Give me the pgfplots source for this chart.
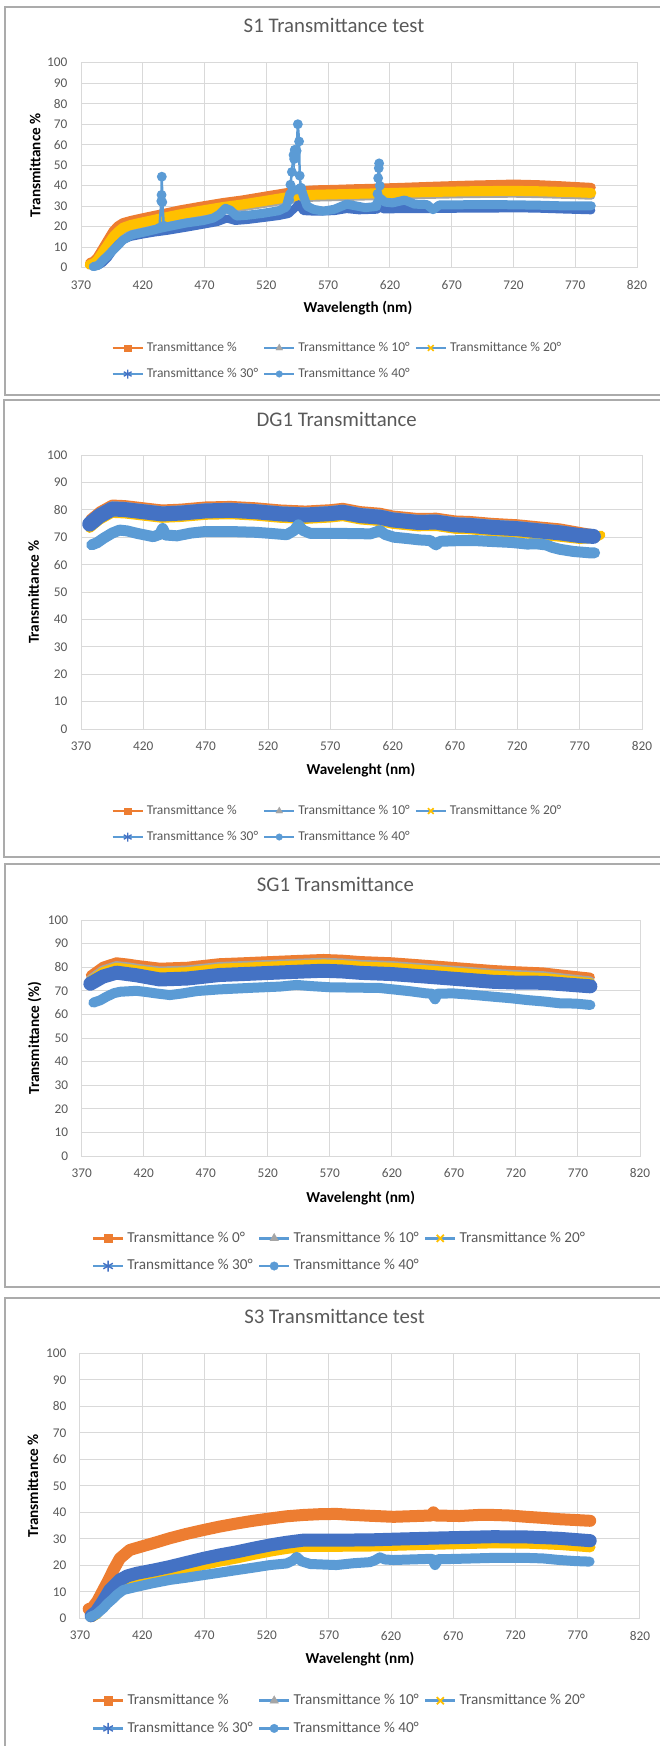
\documentclass[border=0pt]{standalone}
\usepackage{fontspec}
\setmainfont{Carlito}
\usepackage{pgfplots}
\pgfplotsset{compat=1.18}
\definecolor{xorange}{HTML}{ED7D31}
\definecolor{xgray}{HTML}{A5A5A5}
\definecolor{xgold}{HTML}{FFC000}
\definecolor{xdblue}{HTML}{4472C4}
\definecolor{xlblue}{HTML}{5B9BD5}
\definecolor{xgrid}{HTML}{D9D9D9}
\definecolor{xtext}{HTML}{595959}
\definecolor{xframe}{HTML}{ABABAB}

\pgfplotsset{
  xlchart/.style={
    scale only axis,
    xmin=370, xmax=820, ymin=0, ymax=100,
    xtick={370,420,...,820}, ytick={0,10,...,100},
    grid=major,
    major grid style={draw=xgrid, line width=1pt},
    axis line style={draw=xgrid, line width=1pt},
    major tick length=0pt,
    /pgf/number format/assume math mode=true,
    /pgf/number format/1000 sep={},
    ticklabel style={font=\fontsize{13.3}{13.3}\selectfont, text=xtext},
    xticklabel style={anchor=north, inner sep=0pt, yshift=-12.5pt},
    yticklabel style={anchor=east, inner sep=0pt, xshift=-13.5pt},
    title style={font=\fontsize{20.8}{20.8}\selectfont, text=xtext, anchor=center, inner sep=0pt},
    label style={font=\fontsize{15.2}{15.2}\selectfont\bfseries, text=black, inner sep=0pt},
    xlabel style={anchor=center},
    ylabel style={anchor=center},
    clip=false,
    legend columns=3,
    legend cell align=left,
    legend style={anchor=north west, draw=none, fill=none, inner sep=0pt, outer sep=0pt,
      /tikz/every odd column/.append style={column sep=3pt},
      /tikz/every even column/.append style={column sep=5pt}},
    legend image code/.code={\draw[mark repeat=2,mark phase=2,#1] plot coordinates {(0pt,0pt) (15pt,0pt) (30pt,0pt)};},
  },
  band/.style={no markers, line join=round, line cap=round, line width=#1, forget plot},
  lg0s/.style={xorange, line width=2.3pt, mark=square*, mark size=3.3pt, mark options={solid, line width=0.3pt, fill=xorange, draw=xorange}},
  lg1s/.style={xlblue, line width=2.3pt, mark=triangle*, mark size=4pt, mark options={solid, line width=0.3pt, fill=xgray, draw=xgray}},
  lg2s/.style={xlblue, line width=2.3pt, mark=x, mark size=4pt, mark options={solid, line width=1.6pt, draw=xgold}},
  lg3s/.style={xlblue, line width=2.3pt, mark=asterisk, mark size=4.5pt, mark options={solid, line width=1.3pt, draw=xdblue}},
  lg4s/.style={xlblue, line width=2.3pt, mark=*, mark size=3.3pt, mark options={solid, line width=0.3pt, fill=xlblue, draw=xlblue}},
  lg0b/.style={xorange, line width=2.8pt, mark=square*, mark size=4.3pt, mark options={solid, line width=0.3pt, fill=xorange, draw=xorange}},
  lg1b/.style={xlblue, line width=2.8pt, mark=triangle*, mark size=5pt, mark options={solid, line width=0.3pt, fill=xgray, draw=xgray}},
  lg2b/.style={xlblue, line width=2.8pt, mark=x, mark size=5pt, mark options={solid, line width=1.8pt, draw=xgold}},
  lg3b/.style={xlblue, line width=2.8pt, mark=asterisk, mark size=5.5pt, mark options={solid, line width=1.4pt, draw=xdblue}},
  lg4b/.style={xlblue, line width=2.8pt, mark=*, mark size=4.3pt, mark options={solid, line width=0.3pt, fill=xlblue, draw=xlblue}},
}

\begin{document}
\begin{tikzpicture}
\useasboundingbox (0,0) rectangle (660pt,-1746pt);
% chart frames
\draw[xframe, line width=2pt] (680pt,-6.7pt) -- (5pt,-6.7pt) -- (5pt,-395pt) -- (680pt,-395pt);
\draw[xframe, line width=2pt] (680pt,-400pt) -- (4pt,-400pt) -- (4pt,-857.3pt) -- (680pt,-857.3pt);
\draw[xframe, line width=2pt] (680pt,-864.3pt) -- (5pt,-864.3pt) -- (5pt,-1286.7pt) -- (680pt,-1286.7pt);
\draw[xframe, line width=2pt] (680pt,-1298.3pt) -- (5pt,-1298.3pt) -- (5pt,-1760pt);

% ================= S1 =================
\begin{axis}[xlchart, at={(81pt,-267.7pt)}, anchor=south west, width=556pt, height=205pt,
  title={S1 Transmittance test}, title style={at={(axis description cs:0.455,1.151)}},
  xlabel={Wavelength (nm)}, xlabel style={at={(axis description cs:0.498,-0.1966)}},
  ylabel={Transmittance \%}, ylabel style={at={(axis description cs:-0.0827,0.5)}},
  legend style={at={(axis description cs:0.0549,-0.3612)}, font=\fontsize{13.5}{13.5}\selectfont,
    nodes={inner sep=0pt, text height=9.5pt, text depth=3pt, text=xtext}, row sep=13.5pt},
]
\addplot[band=9pt, xorange] coordinates {(377,2.5)(380,3.2)(383,5)(387,9)(392,14)(396,18)(400,20.5)(404,22)(410,23)(415,23.7)(425,25)(434,26.1)(450,28.2)(469,30.2)(485,31.8)(500,33)(520,35)(535,36.5)(547,37.5)(560,38)(575,38.2)(590,38.5)(604,38.7)(630,39.2)(658,39.8)(685,40.3)(700,40.5)(720,40.8)(740,40.5)(758,40)(770,39.6)(783,39.2)};
\addplot[band=8pt, xgray] coordinates {(377,1)(380,1.5)(383,3)(387,6)(392,10.5)(396,14)(400,16.5)(404,18.3)(410,19.6)(415,20.2)(425,21.4)(434,22.6)(450,24.6)(469,26.6)(485,28.2)(500,29.4)(520,31.3)(535,32.8)(547,33.8)(560,34.2)(575,34.4)(590,34.6)(604,34.8)(630,35.2)(658,35.6)(685,35.9)(700,36)(720,36.1)(740,35.9)(758,35.6)(770,35.4)(783,35.1)};
\addplot[band=10pt, xgold] coordinates {(377,1.5)(380,2)(383,3.5)(387,7)(392,11.5)(396,15)(400,17.5)(404,19.5)(410,20.8)(415,21.5)(425,22.8)(434,24)(450,26)(469,28)(485,29.6)(500,30.8)(520,32.7)(535,34.2)(547,35.2)(560,35.6)(575,35.8)(590,36)(604,36.2)(630,36.6)(658,37)(685,37.3)(700,37.4)(720,37.5)(740,37.3)(758,37)(770,36.8)(783,36.5)};
\addplot[band=8pt, xdblue] coordinates {(380,0.5)(384,1)(388,2.5)(392,5)(396,8.5)(400,11.5)(405,13.8)(410,15)(420,16.2)(430,17.2)(440,18)(455,19.5)(469,21)(480,22.2)(488,24)(495,22.8)(505,23.3)(517,24.2)(530,25.2)(538,26.2)(543,29)(546,31)(550,27.6)(560,27.3)(575,27.6)(585,28.6)(595,28)(610,28.3)(612,30)(615,28.4)(630,28.6)(650,28.6)(680,28.8)(700,28.8)(720,29)(740,28.8)(760,28.4)(783,28)};
\addplot[band=9pt, xlblue] coordinates {(380,0.5)(384,1.2)(388,3.8)(392,6)(396,8.6)(400,11)(404,13.5)(411,16)(423,17.6)(434,19.2)(445,20.6)(455,21.8)(469,23)(477,24.2)(482,26)(487,29)(491,28)(496,25.2)(505,25.6)(517,26.5)(530,27.8)(536,29.5)(539,36)(542,38)(545,38)(548,39)(550,35)(553,30)(558,28.5)(566,27.6)(575,28.5)(585,31)(592,30.2)(600,29.3)(608,29.8)(612,34)(616,32)(622,31.6)(632,33)(640,31)(650,30.8)(655,28.3)(660,30.6)(677,30.7)(700,30.8)(717,30.7)(740,30.5)(758,30.2)(783,30.2)};
\addplot[xlblue, line width=2.5pt, mark=*, mark size=3.6pt, forget plot] coordinates {(433.5,19.5)(435,32.5)(435.2,35.5)(435.4,44.4)(435.8,32)(437,20.5)};
\addplot[xlblue, line width=2.5pt, mark=*, mark size=3.6pt, forget plot] coordinates {(538.5,33)(539.5,40.5)(540.7,46.7)(542,55)(542.5,53)(543,57.5)(544.5,57)(545.5,70)(546.5,61.6)(547,44.9)(548,39)};
\addplot[xlblue, line width=2.5pt, mark=*, mark size=3.6pt, forget plot] coordinates {(609,30)(610,36)(610.5,43.7)(611,48.6)(611.3,50.9)(611.8,40)(613,33)};
\addlegendimage{lg0s}\addlegendentry{Transmittance \%}
\addlegendimage{lg1s}\addlegendentry{Transmittance \% 10°}
\addlegendimage{lg2s}\addlegendentry{Transmittance \% 20°}
\addlegendimage{lg3s}\addlegendentry{Transmittance \% 30°}
\addlegendimage{lg4s}\addlegendentry{Transmittance \% 40°}
\end{axis}

% ================= DG1 =================
\begin{axis}[xlchart, at={(81pt,-729pt)}, anchor=south west, width=561pt, height=274pt,
  title={DG1 Transmittance}, title style={at={(axis description cs:0.4558,1.1095)}},
  xlabel={Wavelenght (nm)}, xlabel style={at={(axis description cs:0.499,-0.1496)}},
  ylabel={Transmittance \%}, ylabel style={at={(axis description cs:-0.0843,0.5)}},
  legend style={at={(axis description cs:0.0544,-0.2765)}, font=\fontsize{13.5}{13.5}\selectfont,
    nodes={inner sep=0pt, text height=9.5pt, text depth=3pt, text=xtext}, row sep=13.5pt},
]
\addplot[band=9pt, xorange] coordinates {(377,76.6)(385,79.6)(395,82.1)(405,81.9)(420,81.1)(435,80.3)(450,80.6)(470,81.4)(490,81.6)(510,81.1)(530,80.3)(550,79.9)(570,80.4)(580,80.9)(594,79.7)(610,79.1)(620,78.1)(640,77.2)(655,77.3)(670,76.3)(682,76.1)(700,75.4)(720,74.9)(740,74)(754,73.4)(770,72.1)(781,71.2)};
\addplot[band=9pt, xgray] coordinates {(377,76)(385,79)(395,81.5)(405,81.3)(420,80.5)(435,79.7)(450,80)(470,80.8)(490,81)(510,80.5)(530,79.7)(550,79.3)(570,79.8)(580,80.3)(594,79.1)(610,78.5)(620,77.5)(640,76.6)(655,76.7)(670,75.7)(682,75.5)(700,74.8)(720,74.3)(740,73.4)(754,72.8)(770,71.5)(781,70.6)};
\addplot[band=9pt, xgold] coordinates {(377,73.2)(385,76.2)(395,78.7)(405,78.5)(420,77.7)(435,76.9)(450,77.2)(470,78)(490,78.2)(510,77.7)(530,76.9)(550,76.5)(570,77)(580,77.5)(594,76.3)(610,75.7)(620,74.7)(640,73.8)(655,73.9)(670,72.9)(682,72.7)(700,72)(720,71.5)(740,70.6)(754,70)(770,69.2)(781,69.5)(787,70.8)};
\addplot[band=15pt, xdblue] coordinates {(377,74.8)(385,77.8)(395,80.3)(405,80.1)(420,79.3)(435,78.5)(450,78.8)(470,79.6)(490,79.8)(510,79.3)(530,78.5)(550,78.1)(570,78.6)(580,79.1)(594,77.9)(610,77.3)(620,76.3)(640,75.4)(655,75.5)(670,74.5)(682,74.3)(700,73.6)(720,73.1)(740,72.2)(754,71.6)(770,70.6)(781,70.3)};
\addplot[band=11pt, xlblue] coordinates {(378.6,67.2)(383,68)(388,69.6)(395,71.5)(401,72.6)(407,72.3)(415,71.4)(428,70.2)(433,71)(435.5,73.2)(438,70.8)(447,70.5)(458,71.5)(468,72)(495,72)(510,71.8)(522,71.4)(535,70.9)(541,72.5)(544.3,74.5)(548,72.5)(554,71.4)(575,71.4)(594,71.3)(602,71.2)(609.8,72.4)(614,71)(621,70)(632,69.5)(642,69)(650,68.8)(654.8,67.2)(658,68.5)(669,68.7)(685,68.8)(701,68.4)(715,68.1)(728,67.5)(735,67.6)(743,67.2)(748,66.3)(754,65.6)(765,64.8)(778,64.3)(782,64.3)};
\addlegendimage{lg0s}\addlegendentry{Transmittance \%}
\addlegendimage{lg1s}\addlegendentry{Transmittance \% 10°}
\addlegendimage{lg2s}\addlegendentry{Transmittance \% 20°}
\addlegendimage{lg3s}\addlegendentry{Transmittance \% 30°}
\addlegendimage{lg4s}\addlegendentry{Transmittance \% 40°}
\end{axis}

% ================= SG1 =================
\begin{axis}[xlchart, at={(81.7pt,-1156pt)}, anchor=south west, width=558.3pt, height=236pt,
  title={SG1 Transmittance}, title style={at={(axis description cs:0.4544,1.1271)}},
  xlabel={Wavelenght (nm)}, xlabel style={at={(axis description cs:0.4997,-0.1767)}},
  ylabel={Transmittance (\%)}, ylabel style={at={(axis description cs:-0.0845,0.5)}},
  legend style={at={(axis description cs:0.0179,-0.3191)}, font=\fontsize{15.2}{15.2}\selectfont,
    nodes={inner sep=0pt, text height=10.7pt, text depth=3.3pt, text=xtext}, row sep=13.7pt},
]
\addplot[band=9pt, xorange] coordinates {(377,76.6)(387,80.4)(398,82.3)(408,81.7)(414,81.2)(433,80)(455,80.4)(481,81.9)(500,82.3)(522,82.8)(545,83.3)(565,83.7)(580,83.4)(595,82.8)(620,82.3)(648,81.2)(670,80.3)(702,79)(720,78.5)(742,78)(760,76.9)(780,75.8)};
\addplot[band=9pt, xgray] coordinates {(377,75)(387,78.8)(398,80.7)(408,80.1)(414,79.6)(433,78.4)(455,78.8)(481,80.3)(500,80.7)(522,81.2)(545,81.7)(565,82.1)(580,81.8)(595,81.2)(620,80.7)(648,79.6)(670,78.7)(702,77.4)(720,76.9)(742,76.4)(760,75.3)(780,74.2)};
\addplot[band=9pt, xgold] coordinates {(377,74.3)(387,78.1)(398,80)(408,79.4)(414,78.9)(433,77.7)(455,78.1)(481,79.6)(500,80)(522,80.5)(545,81)(565,81.4)(580,81.1)(595,80.5)(620,80)(648,78.9)(670,78)(702,76.7)(720,76.2)(742,75.7)(760,74.6)(780,73.5)};
\addplot[band=14pt, xdblue] coordinates {(377,73)(387,76)(398,77.7)(408,77)(414,76.6)(433,74.8)(455,75.2)(481,76.7)(500,77.1)(522,77.6)(545,78.1)(565,78.5)(580,78.2)(595,77.6)(620,77.1)(648,76)(670,75.1)(702,73.8)(720,73.5)(742,73.4)(760,72.7)(780,71.9)};
\addplot[band=10pt, xlblue] coordinates {(379.4,65)(385,66)(390,67.5)(396,69)(401,69.6)(414,70)(422,69.5)(430,68.9)(441,68.2)(450,68.8)(463,69.9)(481,70.6)(508,71.3)(530,71.8)(543,72.5)(555,72)(570,71.5)(597,71.3)(610,71.2)(621,70.6)(635,69.8)(648,68.9)(652,68.8)(654.8,66.4)(657,68.8)(669.5,68.9)(685,68.3)(701.7,67.5)(715,66.9)(728.7,66.1)(742,65.5)(755.6,64.7)(768,64.6)(780,64)};
\addlegendimage{lg0b}\addlegendentry{Transmittance \% 0°}
\addlegendimage{lg1b}\addlegendentry{Transmittance \% 10°}
\addlegendimage{lg2b}\addlegendentry{Transmittance \% 20°}
\addlegendimage{lg3b}\addlegendentry{Transmittance \% 30°}
\addlegendimage{lg4b}\addlegendentry{Transmittance \% 40°}
\end{axis}

% ================= S3 =================
\begin{axis}[xlchart, at={(80pt,-1618.3pt)}, anchor=south west, width=560pt, height=265pt,
  title={S3 Transmittance test}, title style={at={(axis description cs:0.4546,1.1155)}},
  xlabel={Wavelenght (nm)}, xlabel style={at={(axis description cs:0.5,-0.1547)}},
  ylabel={Transmittance \%}, ylabel style={at={(axis description cs:-0.0843,0.5)}},
  legend style={at={(axis description cs:0.0209,-0.2845)}, font=\fontsize{15.2}{15.2}\selectfont,
    nodes={inner sep=0pt, text height=10.7pt, text depth=3.3pt, text=xtext}, row sep=13.7pt},
]
\addplot[band=12pt, xorange] coordinates {(377,3.5)(380,4)(384,6.5)(388.7,10.7)(393,14.5)(396.8,18.2)(402,22.6)(410,25.8)(421,27.3)(430,28.5)(442,30.2)(455,31.8)(469,33.3)(482,34.6)(496,35.8)(509,36.8)(523,37.7)(536,38.5)(549.5,39)(563,39.3)(576,39.4)(590,39)(603,38.7)(622,38.3)(640,38.6)(652,38.8)(654,40)(656,38.8)(675,38.6)(690,39)(702,39)(715,38.8)(729,38.3)(742,37.9)(755,37.4)(768,37.1)(780,36.8)};
\addplot[band=11pt, xgray] coordinates {(379,0.5)(383,1.8)(388,5)(394,9.7)(402,13.5)(408,15)(415.6,16)(430,17.3)(442,18.5)(455,20)(469,21.6)(482,22.9)(496,24.1)(509,25.4)(523,26.7)(536,27.7)(549.5,28.5)(575,28.5)(603,28.6)(625,28.9)(648.6,29.2)(675,29.5)(702,29.8)(729,29.7)(755,29.2)(780,28.3)};
\addplot[band=10.6pt, xgold] coordinates {(379,0.5)(383,1.5)(388,4.5)(394,8.5)(402,12)(408,13.6)(415.6,14.6)(430,15.9)(442,17.1)(455,18.6)(469,20.2)(482,21.5)(496,22.7)(509,24)(523,25.3)(536,26.3)(549.5,27.1)(575,27.1)(603,27.2)(625,27.5)(648.6,27.8)(675,28.1)(702,28.4)(729,28.3)(755,27.8)(780,26.9)};
\addplot[band=13pt, xdblue] coordinates {(379,1)(383,2.5)(388,6)(394,10.7)(402,14.5)(408,16)(415.6,17)(430,18.3)(442,19.5)(455,21)(469,22.6)(482,23.9)(496,25.1)(509,26.4)(523,27.7)(536,28.7)(549.5,29.5)(575,29.5)(603,29.6)(625,29.9)(648.6,30.2)(675,30.5)(702,30.8)(729,30.7)(755,30.2)(780,29.3)};
\addplot[band=10pt, xlblue] coordinates {(378,0.5)(383,1.5)(388.7,3.8)(392,5.5)(396.8,7.5)(400,9)(404.8,10.7)(415.6,11.9)(428,13.2)(442.3,14.5)(455,15.3)(469,16.3)(482,17.2)(496,18.2)(509,19.1)(522.7,20.1)(536,20.7)(541,21.8)(544.1,23.2)(548,21.5)(555,20.5)(576,20.1)(590,20.8)(603,21.2)(607,21.9)(611,23)(615,22.2)(622,22)(648.6,22.4)(653,22.4)(655.3,20.1)(658,22.3)(670,22.4)(702,22.8)(729,22.8)(742,22.6)(755.4,22)(768,21.6)(779.5,21.4)};
\addlegendimage{lg0b}\addlegendentry{Transmittance \%}
\addlegendimage{lg1b}\addlegendentry{Transmittance \% 10°}
\addlegendimage{lg2b}\addlegendentry{Transmittance \% 20°}
\addlegendimage{lg3b}\addlegendentry{Transmittance \% 30°}
\addlegendimage{lg4b}\addlegendentry{Transmittance \% 40°}
\end{axis}
\end{tikzpicture}
\end{document}
